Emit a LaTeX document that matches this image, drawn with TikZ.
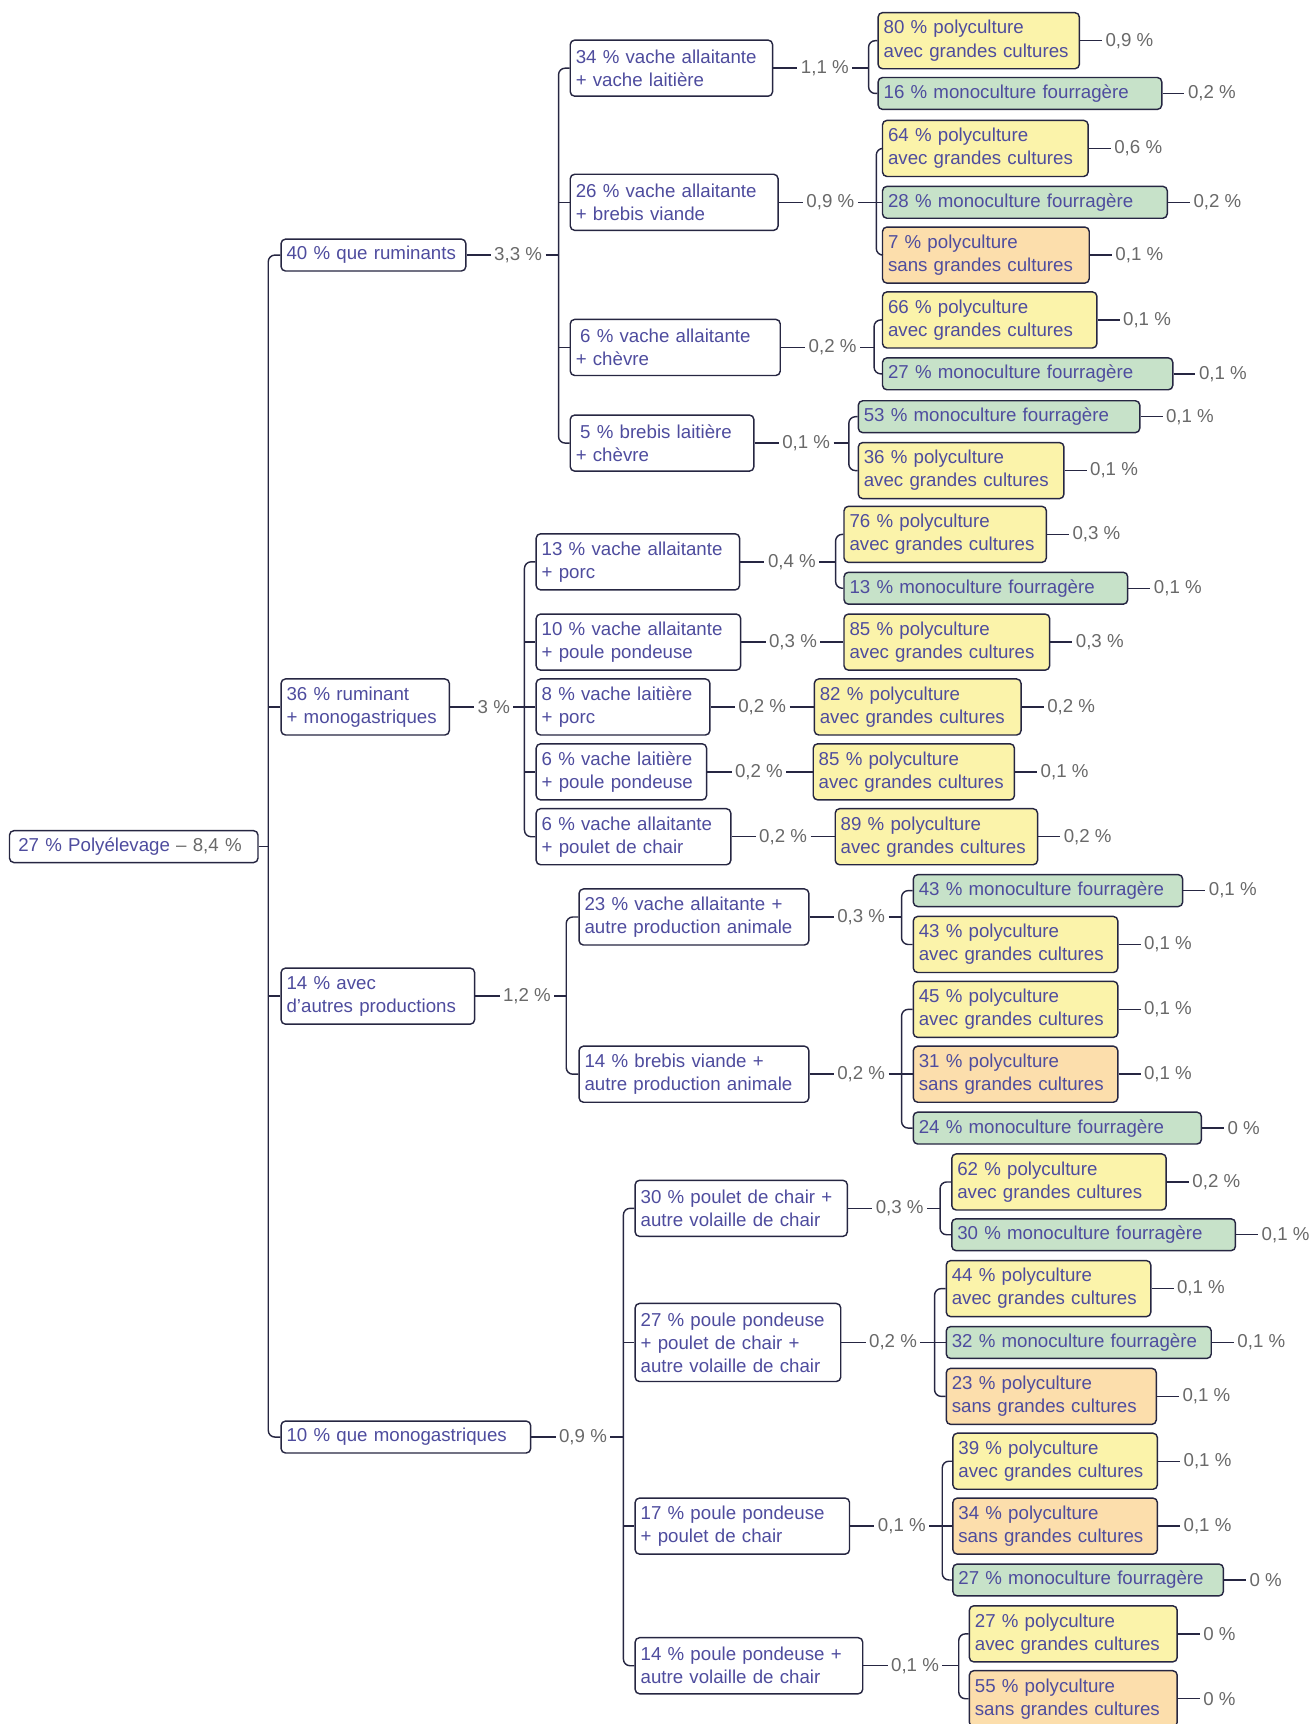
\documentclass[tikz,border=0pt]{standalone}
\usepackage{fontspec}
\setmainfont{Liberation Sans}
\usetikzlibrary{positioning}
\definecolor{texte}{RGB}{78,76,158}
\definecolor{gris}{RGB}{105,105,105}
\definecolor{trait}{RGB}{38,38,66}
\definecolor{jaune}{RGB}{251,243,170}
\definecolor{vert}{RGB}{199,226,201}
\definecolor{peche}{RGB}{252,222,172}

\begin{document}
\begin{tikzpicture}[x=1pt, y=-1pt,
  every node/.style={font=\fontsize{17}{21}\selectfont},
  boite/.style={draw=trait, line width=1.3pt, rounded corners=4pt, fill=white, text=texte, anchor=west, align=left, inner xsep=5pt, inner ysep=2pt, minimum height=29pt},
  deux/.style={minimum height=51pt},
  trois/.style={minimum height=71pt},
  jaunebox/.style={boite, deux, fill=jaune},
  vertbox/.style={boite, fill=vert},
  pechebox/.style={boite, deux, fill=peche},
  pct/.style={text=gris, inner xsep=3pt, inner ysep=1pt},
  lien/.style={draw=trait, line width=1.3pt, rounded corners=6pt}]
\useasboundingbox (0,0) rectangle (1193,1568);

% racine
\node[boite, text width=216pt] (racine) at (8,770) {\hspace{3pt}27 \% Polyélevage \textcolor{gris}{– 8,4 \%}};
\coordinate (j0) at (244,770);

% premier niveau
\node[boite, text width=158pt] (rum) at (255,232) {40 \% que ruminants};
\node[boite, deux, text width=143pt] (rummono) at (255,643) {36 \% ruminant\\+ monogastriques};
\node[boite, deux, text width=166pt] (autres) at (255,906) {14 \% avec\\d'autres productions};
\node[boite, text width=217pt] (mono) at (255,1307) {10 \% que monogastriques};

\node[pct, right=22pt of rum] (p-rum) {3,3 \%};
\node[pct, right=22pt of rummono] (p-rummono) {3 \%};
\node[pct, right=22pt of autres] (p-autres) {1,2 \%};
\node[pct, right=22pt of mono] (p-mono) {0,9 \%};
\coordinate (jrum) at (508,232);
\coordinate (jrm) at (477,643);
\coordinate (jaut) at (515,906);
\coordinate (jmono) at (567,1307);

% que ruminants
\node[boite, deux, text width=174pt] (vavl) at (518,62) {34 \% vache allaitante\\+ vache laitière};
\node[boite, deux, text width=179pt] (vabv) at (518,184) {26 \% vache allaitante\\+ brebis viande};
\node[boite, deux, text width=181pt] (vach) at (518,316) {\hspace{4pt}6 \% vache allaitante\\+ chèvre};
\node[boite, deux, text width=157pt] (blch) at (518,403) {\hspace{4pt}5 \% brebis laitière\\+ chèvre};

% ruminant + monogastriques
\node[boite, deux, text width=175pt] (vapo) at (487,511) {13 \% vache allaitante\\+ porc};
\node[boite, deux, text width=176pt] (vapp) at (487,584) {10 \% vache allaitante\\+ poule pondeuse};
\node[boite, deux, text width=148pt] (vlpo) at (487,643) {8 \% vache laitière\\+ porc};
\node[boite, deux, text width=145pt] (vlpp) at (487,702) {6 \% vache laitière\\+ poule pondeuse};
\node[boite, deux, text width=167pt] (vapc) at (487,761) {6 \% vache allaitante\\+ poulet de chair};

% autres productions
\node[boite, deux, text width=199pt] (vaap) at (526,834) {23 \% vache allaitante +\\autre production animale};
\node[boite, deux, text width=199pt] (bvap) at (526,977) {14 \% brebis viande +\\autre production animale};

% que monogastriques
\node[boite, deux, text width=183pt] (pcvc) at (577,1099) {30 \% poulet de chair +\\autre volaille de chair};
\node[boite, trois, text width=177pt] (pppc) at (577,1221) {27 \% poule pondeuse\\+ poulet de chair +\\autre volaille de chair};
\node[boite, deux, text width=185pt] (ppch) at (577,1388) {17 \% poule pondeuse\\+ poulet de chair};
\node[boite, deux, text width=197pt] (ppvc) at (577,1515) {14 \% poule pondeuse +\\autre volaille de chair};

% pourcentages du deuxieme niveau
\node[pct, right=22pt of vavl] (p-vavl) {1,1 \%};
\node[pct, right=22pt of vabv] (p-vabv) {0,9 \%};
\node[pct, right=22pt of vach] (p-vach) {0,2 \%};
\node[pct, right=22pt of blch] (p-blch) {0,1 \%};
\node[pct, right=22pt of vapo] (p-vapo) {0,4 \%};
\node[pct, right=22pt of vapp] (p-vapp) {0,3 \%};
\node[pct, right=22pt of vlpo] (p-vlpo) {0,2 \%};
\node[pct, right=22pt of vlpp] (p-vlpp) {0,2 \%};
\node[pct, right=22pt of vapc] (p-vapc) {0,2 \%};
\node[pct, right=22pt of vaap] (p-vaap) {0,3 \%};
\node[pct, right=22pt of bvap] (p-bvap) {0,2 \%};
\node[pct, right=22pt of pcvc] (p-pcvc) {0,3 \%};
\node[pct, right=22pt of pppc] (p-pppc) {0,2 \%};
\node[pct, right=22pt of ppch] (p-ppch) {0,1 \%};
\node[pct, right=22pt of ppvc] (p-ppvc) {0,1 \%};
\coordinate (jvavl) at (790,62);
\coordinate (jvabv) at (797,184);
\coordinate (jvach) at (795,316);
\coordinate (jblch) at (772,403);
\coordinate (jvapo) at (760,511);
\coordinate (jvaap) at (820,834);
\coordinate (jbvap) at (820,977);
\coordinate (jpcvc) at (855,1099);
\coordinate (jpppc) at (850,1221);
\coordinate (jppch) at (857,1388);
\coordinate (jppvc) at (872,1515);

% orientations
\node[jaunebox, text width=173pt] (a1a) at (798,37) {80 \% polyculture\\avec grandes cultures};
\node[vertbox, text width=248pt] (a1b) at (798,85) {16 \% monoculture fourragère};
\node[jaunebox, text width=177pt] (a2a) at (802,135) {64 \% polyculture\\avec grandes cultures};
\node[vertbox, text width=249pt] (a2b) at (802,184) {28 \% monoculture fourragère};
\node[pechebox, text width=178pt] (a2c) at (802,232) {7 \% polyculture\\sans grandes cultures};
\node[jaunebox, text width=185pt] (a3a) at (802,291) {66 \% polyculture\\avec grandes cultures};
\node[vertbox, text width=254pt] (a3b) at (802,340) {27 \% monoculture fourragère};
\node[vertbox, text width=246pt] (a4a) at (780,379) {53 \% monoculture fourragère};
\node[jaunebox, text width=177pt] (a4b) at (780,428) {36 \% polyculture\\avec grandes cultures};
\node[jaunebox, text width=174pt] (b1a) at (767,486) {76 \% polyculture\\avec grandes cultures};
\node[vertbox, text width=248pt] (b1b) at (767,535) {13 \% monoculture fourragère};
\node[jaunebox, text width=177pt] (b2a) at (767,584) {85 \% polyculture\\avec grandes cultures};
\node[jaunebox, text width=178pt] (b3a) at (740,643) {82 \% polyculture\\avec grandes cultures};
\node[jaunebox, text width=173pt] (b4a) at (739,702) {85 \% polyculture\\avec grandes cultures};
\node[jaunebox, text width=174pt] (b5a) at (759,761) {89 \% polyculture\\avec grandes cultures};
\node[vertbox, text width=235pt] (c1a) at (830,810) {43 \% monoculture fourragère};
\node[jaunebox, text width=176pt] (c1b) at (830,859) {43 \% polyculture\\avec grandes cultures};
\node[jaunebox, text width=176pt] (c2a) at (830,918) {45 \% polyculture\\avec grandes cultures};
\node[pechebox, text width=176pt] (c2b) at (830,977) {31 \% polyculture\\sans grandes cultures};
\node[vertbox, text width=252pt] (c2c) at (830,1026) {24 \% monoculture fourragère};
\node[jaunebox, text width=185pt] (d1a) at (865,1075) {62 \% polyculture\\avec grandes cultures};
\node[vertbox, text width=248pt] (d1b) at (865,1123) {30 \% monoculture fourragère};
\node[jaunebox, text width=176pt] (d2a) at (860,1172) {44 \% polyculture\\avec grandes cultures};
\node[vertbox, text width=231pt] (d2b) at (860,1221) {32 \% monoculture fourragère};
\node[pechebox, text width=181pt] (d2c) at (860,1270) {23 \% polyculture\\sans grandes cultures};
\node[jaunebox, text width=176pt] (d3a) at (866,1329) {39 \% polyculture\\avec grandes cultures};
\node[pechebox, text width=176pt] (d3b) at (866,1388) {34 \% polyculture\\sans grandes cultures};
\node[vertbox, text width=236pt] (d3c) at (866,1437) {27 \% monoculture fourragère};
\node[jaunebox, text width=179pt] (d4a) at (881,1486) {27 \% polyculture\\avec grandes cultures};
\node[pechebox, text width=179pt] (d4b) at (881,1545) {55 \% polyculture\\sans grandes cultures};

% pourcentages des orientations
\node[pct, right=20pt of a1a] (p-a1a) {0,9 \%};
\node[pct, right=20pt of a1b] (p-a1b) {0,2 \%};
\node[pct, right=20pt of a2a] (p-a2a) {0,6 \%};
\node[pct, right=20pt of a2b] (p-a2b) {0,2 \%};
\node[pct, right=20pt of a2c] (p-a2c) {0,1 \%};
\node[pct, right=20pt of a3a] (p-a3a) {0,1 \%};
\node[pct, right=20pt of a3b] (p-a3b) {0,1 \%};
\node[pct, right=20pt of a4a] (p-a4a) {0,1 \%};
\node[pct, right=20pt of a4b] (p-a4b) {0,1 \%};
\node[pct, right=20pt of b1a] (p-b1a) {0,3 \%};
\node[pct, right=20pt of b1b] (p-b1b) {0,1 \%};
\node[pct, right=20pt of b2a] (p-b2a) {0,3 \%};
\node[pct, right=20pt of b3a] (p-b3a) {0,2 \%};
\node[pct, right=20pt of b4a] (p-b4a) {0,1 \%};
\node[pct, right=20pt of b5a] (p-b5a) {0,2 \%};
\node[pct, right=20pt of c1a] (p-c1a) {0,1 \%};
\node[pct, right=20pt of c1b] (p-c1b) {0,1 \%};
\node[pct, right=20pt of c2a] (p-c2a) {0,1 \%};
\node[pct, right=20pt of c2b] (p-c2b) {0,1 \%};
\node[pct, right=20pt of c2c] (p-c2c) {0 \%};
\node[pct, right=20pt of d1a] (p-d1a) {0,2 \%};
\node[pct, right=20pt of d1b] (p-d1b) {0,1 \%};
\node[pct, right=20pt of d2a] (p-d2a) {0,1 \%};
\node[pct, right=20pt of d2b] (p-d2b) {0,1 \%};
\node[pct, right=20pt of d2c] (p-d2c) {0,1 \%};
\node[pct, right=20pt of d3a] (p-d3a) {0,1 \%};
\node[pct, right=20pt of d3b] (p-d3b) {0,1 \%};
\node[pct, right=20pt of d3c] (p-d3c) {0 \%};
\node[pct, right=20pt of d4a] (p-d4a) {0 \%};
\node[pct, right=20pt of d4b] (p-d4b) {0 \%};

% liens racine
\draw[lien] (racine.east) -- (j0);
\draw[lien] (rum.west) -| (j0) |- (mono.west);
\draw[lien] (j0 |- rummono.west) -- (rummono.west);
\draw[lien] (j0 |- autres.west) -- (autres.west);

% liens premier niveau
\draw[lien] (rum.east) -- (p-rum.west);
\draw[lien] (p-rum.east) -- (jrum);
\draw[lien] (vavl.west) -| (jrum) |- (blch.west);
\draw[lien] (jrum |- vabv.west) -- (vabv.west);
\draw[lien] (jrum |- vach.west) -- (vach.west);

\draw[lien] (rummono.east) -- (p-rummono.west);
\draw[lien] (p-rummono.east) -- (jrm);
\draw[lien] (vapo.west) -| (jrm) |- (vapc.west);
\draw[lien] (jrm |- vapp.west) -- (vapp.west);
\draw[lien] (jrm |- vlpo.west) -- (vlpo.west);
\draw[lien] (jrm |- vlpp.west) -- (vlpp.west);

\draw[lien] (autres.east) -- (p-autres.west);
\draw[lien] (p-autres.east) -- (jaut);
\draw[lien] (vaap.west) -| (jaut) |- (bvap.west);

\draw[lien] (mono.east) -- (p-mono.west);
\draw[lien] (p-mono.east) -- (jmono);
\draw[lien] (pcvc.west) -| (jmono) |- (ppvc.west);
\draw[lien] (jmono |- pppc.west) -- (pppc.west);
\draw[lien] (jmono |- ppch.west) -- (ppch.west);

% liens deuxieme niveau
\draw[lien] (vavl.east) -- (p-vavl.west);
\draw[lien] (p-vavl.east) -- (jvavl);
\draw[lien] (a1a.west) -| (jvavl) |- (a1b.west);

\draw[lien] (vabv.east) -- (p-vabv.west);
\draw[lien] (p-vabv.east) -- (jvabv);
\draw[lien] (a2a.west) -| (jvabv) |- (a2c.west);
\draw[lien] (jvabv) -- (a2b.west);

\draw[lien] (vach.east) -- (p-vach.west);
\draw[lien] (p-vach.east) -- (jvach);
\draw[lien] (a3a.west) -| (jvach) |- (a3b.west);

\draw[lien] (blch.east) -- (p-blch.west);
\draw[lien] (p-blch.east) -- (jblch);
\draw[lien] (a4a.west) -| (jblch) |- (a4b.west);

\draw[lien] (vapo.east) -- (p-vapo.west);
\draw[lien] (p-vapo.east) -- (jvapo);
\draw[lien] (b1a.west) -| (jvapo) |- (b1b.west);

\draw[lien] (vapp.east) -- (p-vapp.west);
\draw[lien] (p-vapp.east) -- (b2a.west);
\draw[lien] (vlpo.east) -- (p-vlpo.west);
\draw[lien] (p-vlpo.east) -- (b3a.west);
\draw[lien] (vlpp.east) -- (p-vlpp.west);
\draw[lien] (p-vlpp.east) -- (b4a.west);
\draw[lien] (vapc.east) -- (p-vapc.west);
\draw[lien] (p-vapc.east) -- (b5a.west);

\draw[lien] (vaap.east) -- (p-vaap.west);
\draw[lien] (p-vaap.east) -- (jvaap);
\draw[lien] (c1a.west) -| (jvaap) |- (c1b.west);

\draw[lien] (bvap.east) -- (p-bvap.west);
\draw[lien] (p-bvap.east) -- (jbvap);
\draw[lien] (c2a.west) -| (jbvap) |- (c2c.west);
\draw[lien] (jbvap) -- (c2b.west);

\draw[lien] (pcvc.east) -- (p-pcvc.west);
\draw[lien] (p-pcvc.east) -- (jpcvc);
\draw[lien] (d1a.west) -| (jpcvc) |- (d1b.west);

\draw[lien] (pppc.east) -- (p-pppc.west);
\draw[lien] (p-pppc.east) -- (jpppc);
\draw[lien] (d2a.west) -| (jpppc) |- (d2c.west);
\draw[lien] (jpppc) -- (d2b.west);

\draw[lien] (ppch.east) -- (p-ppch.west);
\draw[lien] (p-ppch.east) -- (jppch);
\draw[lien] (d3a.west) -| (jppch) |- (d3c.west);
\draw[lien] (jppch) -- (d3b.west);

\draw[lien] (ppvc.east) -- (p-ppvc.west);
\draw[lien] (p-ppvc.east) -- (jppvc);
\draw[lien] (d4a.west) -| (jppvc) |- (d4b.west);

% liens vers les pourcentages
\draw[lien] (a1a.east) -- (p-a1a.west);
\draw[lien] (a1b.east) -- (p-a1b.west);
\draw[lien] (a2a.east) -- (p-a2a.west);
\draw[lien] (a2b.east) -- (p-a2b.west);
\draw[lien] (a2c.east) -- (p-a2c.west);
\draw[lien] (a3a.east) -- (p-a3a.west);
\draw[lien] (a3b.east) -- (p-a3b.west);
\draw[lien] (a4a.east) -- (p-a4a.west);
\draw[lien] (a4b.east) -- (p-a4b.west);
\draw[lien] (b1a.east) -- (p-b1a.west);
\draw[lien] (b1b.east) -- (p-b1b.west);
\draw[lien] (b2a.east) -- (p-b2a.west);
\draw[lien] (b3a.east) -- (p-b3a.west);
\draw[lien] (b4a.east) -- (p-b4a.west);
\draw[lien] (b5a.east) -- (p-b5a.west);
\draw[lien] (c1a.east) -- (p-c1a.west);
\draw[lien] (c1b.east) -- (p-c1b.west);
\draw[lien] (c2a.east) -- (p-c2a.west);
\draw[lien] (c2b.east) -- (p-c2b.west);
\draw[lien] (c2c.east) -- (p-c2c.west);
\draw[lien] (d1a.east) -- (p-d1a.west);
\draw[lien] (d1b.east) -- (p-d1b.west);
\draw[lien] (d2a.east) -- (p-d2a.west);
\draw[lien] (d2b.east) -- (p-d2b.west);
\draw[lien] (d2c.east) -- (p-d2c.west);
\draw[lien] (d3a.east) -- (p-d3a.west);
\draw[lien] (d3b.east) -- (p-d3b.west);
\draw[lien] (d3c.east) -- (p-d3c.west);
\draw[lien] (d4a.east) -- (p-d4a.west);
\draw[lien] (d4b.east) -- (p-d4b.west);
\end{tikzpicture}
\end{document}
